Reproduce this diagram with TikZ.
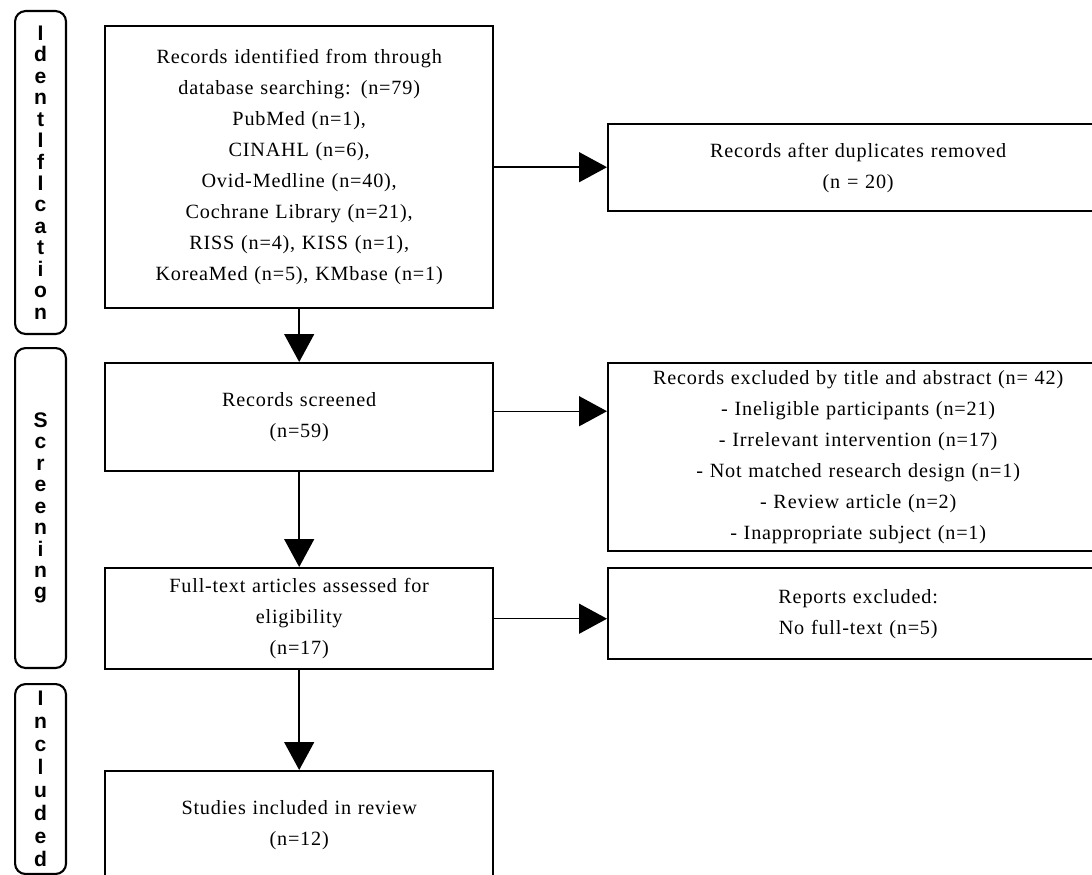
\documentclass[tikz,border=0pt]{standalone}
\usepackage{fontspec}
\setmainfont{Liberation Serif}[LetterSpace=4, WordSpace=2.2]
\newfontfamily\stagefont{Liberation Sans}
\usetikzlibrary{arrows.meta}

\tikzset{
  box/.style={draw, line width=1.4pt, anchor=north west, inner sep=0pt, align=center,
    font=\fontsize{11.5}{17.6}\selectfont},
  stage/.style={draw, line width=1.2pt, rounded corners=6pt, anchor=north west, inner sep=0pt,
    text width=1.02cm, align=center, font=\stagefont\bfseries\fontsize{12}{12.2}\selectfont},
  flow/.style={line width=0.8pt, -{Triangle[length=0.56cm,width=0.6cm]}}
}

\begin{document}
\begin{tikzpicture}[x=0.02cm, y=-0.02cm]
    \useasboundingbox (0,0) rectangle (1092,875);

    % Stages
    \node[stage, minimum height=6.46cm] (ident) at (14,10) {I\\d\\e\\n\\t\\I\\f\\I\\c\\a\\t\\i\\o\\n};
    \node[stage, minimum height=6.4cm] (screen) at (14,347) {S\\c\\r\\e\\e\\n\\i\\n\\g\\[0.3cm]};
    \node[stage, minimum height=3.8cm, font=\stagefont\bfseries\fontsize{12}{13.1}\selectfont] (incl) at (14,683) {I\\n\\c\\l\\u\\d\\e\\d};

    % Left column
    \node[box, text width=7.76cm, minimum height=5.64cm] (found) at (104,25)
      {Records identified from through\\database searching: (n=79)\\PubMed (n=1),\\CINAHL (n=6),\\Ovid-Medline (n=40),\\Cochrane Library (n=21),\\RISS (n=4), KISS (n=1),\\KoreaMed (n=5), KMbase (n=1)};
    \node[box, text width=7.76cm, minimum height=2.16cm] (screened) at (104,362)
      {Records screened\\(n=59)};
    \node[box, text width=7.76cm, minimum height=2.02cm] (fulltext) at (104,567)
      {Full-text articles assessed for\\eligibility\\(n=17)};
    \node[box, text width=7.76cm, minimum height=2.16cm] (included) at (104,770)
      {Studies included in review\\(n=12)};

    % Right column
    \node[box, text width=10cm, minimum height=1.74cm] (dupl) at (607,123)
      {Records after duplicates removed\\(n = 20)};
    \node[box, text width=10cm, minimum height=3.76cm] (excl) at (607,362)
      {Records excluded by title and abstract (n= 42)\\- Ineligible participants (n=21)\\- Irrelevant intervention (n=17)\\- Not matched research design (n=1)\\- Review article (n=2)\\- Inappropriate subject (n=1)};
    \node[box, text width=10cm, minimum height=1.82cm] (reports) at (607,567)
      {Reports excluded:\\No full-text (n=5)};

    % Arrows
    \draw[flow] (found.south) -- (screened.north);
    \draw[flow] (screened.south) -- (fulltext.north);
    \draw[flow] (fulltext.south) -- (included.north);
    \draw[flow] (found.east) -- (found.east -| dupl.west);
    \draw[flow] ([yshift=0.12cm]screened.east) -- ([yshift=0.12cm]screened.east -| excl.west);
    \draw[flow] (fulltext.east) -- (fulltext.east -| reports.west);

\end{tikzpicture}
\end{document}
